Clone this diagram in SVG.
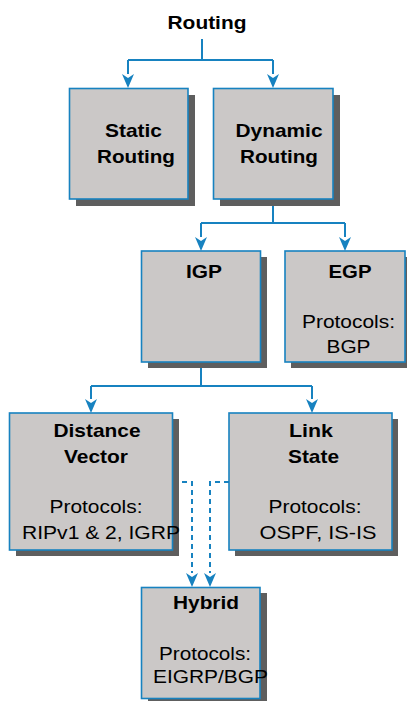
<svg xmlns="http://www.w3.org/2000/svg" width="407" height="701" viewBox="0 0 407 701">
<defs>
<style>
.box{fill:#CBC8C7;stroke:#1782C0;stroke-width:1.6}
.sh{fill:#5E5E5E}
.t{font-family:"Liberation Sans",Arial,sans-serif;font-size:19px;fill:#000;text-anchor:middle}
.b{font-weight:bold}
.ln{fill:none;stroke:#1782C0;stroke-width:2}
.dash{stroke-dasharray:5 4}
</style>
</defs>
<rect width="407" height="701" fill="#fff"/>
<g id="connectors">
<path class="ln" d="M202 39 V60 M128 60 H273"/>
<path class="ln" d="M128 60 V74"/>
<path class="ln" d="M273 60 V74"/>
<path class="ln" d="M273 199 V223 M201 223 H345"/>
<path class="ln" d="M201 223 V237"/>
<path class="ln" d="M345 223 V237"/>
<path class="ln" d="M201 362 V386 M91 386 H312"/>
<path class="ln" d="M91 386 V399"/>
<path class="ln" d="M312 386 V399"/>
<path class="ln dash" d="M173 482 H192 V573"/>
<path class="ln dash" d="M229 482 H210 V573"/>
<path d="M122 74 L128 78 L134 74 L128 88 Z M267 74 L273 78 L279 74 L273 88 Z M195 237 L201 241 L207 237 L201 251 Z M339 237 L345 241 L351 237 L345 251 Z M85 399 L91 403 L97 399 L91 413 Z M306 399 L312 403 L318 399 L312 413 Z M186 573 L192 577 L198 573 L192 587 Z M204 573 L210 577 L216 573 L210 587 Z" fill="#1782C0"/>
</g>
<g id="routing">
<text class="t b" x="207" y="29" textLength="79" lengthAdjust="spacingAndGlyphs">Routing</text>
</g>
<g id="static">
<rect class="sh" x="76" y="95" width="119" height="111"/>
<rect class="box" x="69.5" y="88.5" width="118.5" height="110.5"/>
<text class="t b" x="133.5" y="137" textLength="57" lengthAdjust="spacingAndGlyphs">Static</text>
<text class="t b" x="136" y="163" textLength="78" lengthAdjust="spacingAndGlyphs">Routing</text>
</g>
<g id="dynamic">
<rect class="sh" x="220" y="95" width="120" height="111"/>
<rect class="box" x="213.5" y="88.5" width="119.5" height="110.5"/>
<text class="t b" x="279" y="137" textLength="87" lengthAdjust="spacingAndGlyphs">Dynamic</text>
<text class="t b" x="279" y="163" textLength="78" lengthAdjust="spacingAndGlyphs">Routing</text>
</g>
<g id="igp">
<rect class="sh" x="148" y="257" width="119" height="111"/>
<rect class="box" x="141.5" y="251" width="119" height="111"/>
<text class="t b" x="204" y="278" textLength="36" lengthAdjust="spacingAndGlyphs">IGP</text>
</g>
<g id="egp">
<rect class="sh" x="291" y="257" width="120" height="111"/>
<rect class="box" x="285" y="251" width="120" height="111"/>
<text class="t b" x="350" y="278" textLength="43" lengthAdjust="spacingAndGlyphs">EGP</text>
<text class="t" x="348.5" y="328" textLength="93" lengthAdjust="spacingAndGlyphs">Protocols:</text>
<text class="t" x="348.5" y="353" textLength="44" lengthAdjust="spacingAndGlyphs">BGP</text>
</g>
<g id="distance-vector">
<rect class="sh" x="16" y="419" width="163" height="137"/>
<rect class="box" x="9.5" y="413" width="163" height="137"/>
<text class="t b" x="97" y="437" textLength="87" lengthAdjust="spacingAndGlyphs">Distance</text>
<text class="t b" x="96" y="463" textLength="64" lengthAdjust="spacingAndGlyphs">Vector</text>
<text class="t" x="96" y="513" textLength="93" lengthAdjust="spacingAndGlyphs">Protocols:</text>
<text class="t" x="101" y="539" textLength="158" lengthAdjust="spacingAndGlyphs">RIPv1 &amp; 2, IGRP</text>
</g>
<g id="link-state">
<rect class="sh" x="235" y="419" width="163" height="137"/>
<rect class="box" x="229" y="413" width="163" height="137"/>
<text class="t b" x="311" y="437" textLength="44" lengthAdjust="spacingAndGlyphs">Link</text>
<text class="t b" x="313.5" y="463" textLength="51" lengthAdjust="spacingAndGlyphs">State</text>
<text class="t" x="315" y="513" textLength="93" lengthAdjust="spacingAndGlyphs">Protocols:</text>
<text class="t" x="318" y="539" textLength="117" lengthAdjust="spacingAndGlyphs">OSPF, IS-IS</text>
</g>
<g id="hybrid">
<rect class="sh" x="148" y="593" width="119" height="111"/>
<rect class="box" x="141.5" y="587.5" width="118.5" height="111"/>
<text class="t b" x="206" y="609" textLength="66" lengthAdjust="spacingAndGlyphs">Hybrid</text>
<text class="t" x="205" y="660" textLength="92" lengthAdjust="spacingAndGlyphs">Protocols:</text>
<text class="t" x="210.5" y="683" textLength="115" lengthAdjust="spacingAndGlyphs">EIGRP/BGP</text>
</g>
</svg>
